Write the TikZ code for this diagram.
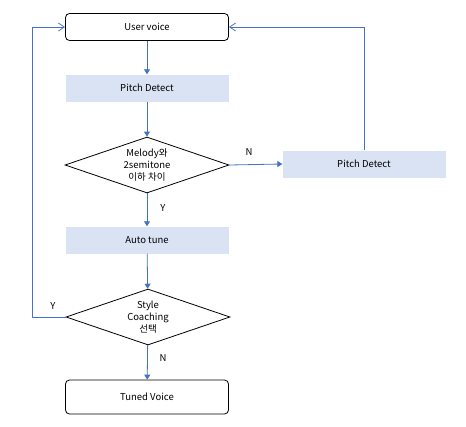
\documentclass[tikz,border=0pt]{standalone}
\usepackage{fontspec}
\setmainfont{Noto Sans CJK KR}
\usetikzlibrary{arrows.meta,shapes.geometric}
\definecolor{lineblue}{RGB}{68,114,196}
\definecolor{boxblue}{RGB}{218,227,243}

\begin{document}
\begin{tikzpicture}[x=1pt,y=-1pt,
	font=\fontsize{9.5}{12}\selectfont,
	terminal/.style={draw,rounded corners=4pt,line width=0.8pt,minimum width=163pt,minimum height=27pt},
	process/.style={fill=boxblue,minimum width=163pt,minimum height=27pt},
	decision/.style={draw,diamond,aspect=3,inner sep=0pt,line width=0.8pt,minimum width=164pt,minimum height=56pt,align=center},
	flow/.style={draw=lineblue,line width=0.8pt,-{Triangle[width=6pt,length=5pt]}},
	loopback/.style={draw=lineblue,line width=0.8pt,-{Straight Barb[length=6pt,width=8pt]}}]

	\useasboundingbox (0,0) rectangle (466,426);

	\node[terminal] (voice) at (147,27) {User voice};
	\node[process] (pitch) at (147,88) {Pitch Detect};
	\node[decision] (melody) at (147,165) {Melody와\\2semitone\\이하 차이};
	\node[process] (repitch) at (364,164) {Pitch Detect};
	\node[process] (tune) at (147,240) {Auto tune};
	\node[decision] (style) at (148,317) {Style\\Coaching\\선택};
	\node[terminal,minimum height=34pt] (tuned) at (147,397) {Tuned Voice};

	\coordinate (rtop) at (364,27);
	\coordinate (lbot) at (32,317);
	\coordinate (ltop) at (32,27);

	\draw[flow] (voice) -- (pitch);
	\draw[flow] (pitch) -- (melody);
	\draw[flow] (melody.east) -- (repitch.west);
	\draw[flow] (melody) -- (tune);
	\draw[flow] (tune) -- (style);
	\draw[flow] (style) -- (tuned);
	\draw[loopback] (repitch.north) -- (rtop) -- (voice.east);
	\draw[loopback] (style.west) -- (lbot) -- (ltop) -- (voice.west);

	% branch labels
	\node (n1) at (249,152) {N};
	\node (y1) at (163,208) {Y};
	\node (y2) at (53,306) {Y};
	\node (n2) at (163,358) {N};

\end{tikzpicture}
\end{document}
